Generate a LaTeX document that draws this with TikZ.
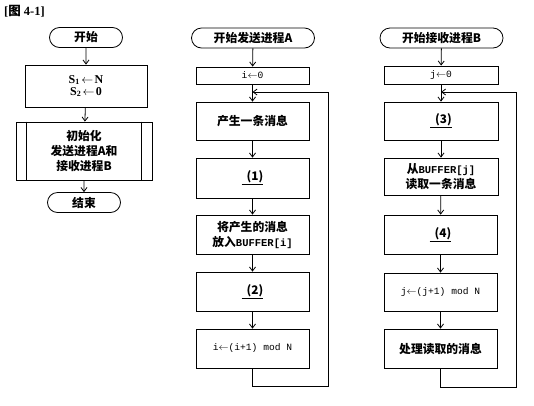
\documentclass[tikz,border=0pt]{standalone}
\usepackage{fontspec}
\setmainfont{Liberation Serif}
\setmonofont{Liberation Mono}
\newfontfamily\cjk{Noto Sans CJK SC}
\usetikzlibrary{shapes.misc,arrows.meta,calc}
\newcommand{\blk}[1]{\underline{\hspace{5pt}#1}}
\begin{document}
\begin{tikzpicture}[x=1pt,y=-1pt,
  every node/.style={font=\cjk\bfseries\fontsize{11.8pt}{15pt}\selectfont, align=center, inner sep=0pt},
  mono/.style={font=\ttfamily\fontsize{9.6pt}{13pt}\selectfont},
  term/.style={draw, rounded rectangle, line width=0.8pt, minimum height=20pt},
  blk/.style={draw, rectangle, line width=0.8pt},
  arr/.style={line width=0.8pt, -{Straight Barb[length=4pt,width=6pt]}},
  ln/.style={line width=0.8pt}]
\useasboundingbox[fill=white] (0,0) rectangle (534,405);
\node[anchor=west, font=\bfseries\fontsize{12.5pt}{14pt}\selectfont] (title) at (4,11) {[{\cjk 图} 4-1]};
% left column
\node[term, minimum width=73pt] (L0) at (86,37.5) {开始};
\node[blk, minimum width=122pt, minimum height=42pt, font=\rmfamily\bfseries\fontsize{12pt}{13pt}\selectfont] (L1) at (86,86) {$\mathbf{S_1}\!\leftarrow\!\mathbf{N}$\\[-1pt]$\mathbf{S_2}\!\leftarrow\!\mathbf{0}$};
\node[blk, minimum width=136pt, minimum height=58pt] (L2) at (84,151) {初始化\\发送进程A和\\接收进程B};
\draw[ln] ([xshift=11pt]L2.north west) -- ([xshift=11pt]L2.south west);
\draw[ln] ([xshift=-11pt]L2.north east) -- ([xshift=-11pt]L2.south east);
\node[term, minimum width=73pt] (L3) at (84,202.5) {结束};
\draw[arr] (L0) -- (L1);
\draw[arr] (L1) -- (L2);
\draw[arr] (L2) -- (L3);
% middle column
\node[term, minimum width=123pt] (A0) at (253,38) {开始发送进程A};
\node[blk, mono, minimum width=113pt, minimum height=17pt] (A1) at (252.5,75.5) {i$\leftarrow$0};
\node[blk, minimum width=113pt, minimum height=38pt] (A2) at (252.5,121) {产生一条消息};
\node[blk, minimum width=113pt, minimum height=40pt] (A3) at (252.5,178) {\blk{(1)}};
\node[blk, minimum width=113pt, minimum height=39pt] (A4) at (252.5,234.5) {将产生的消息\\放入{\ttfamily\fontsize{10.5pt}{13pt}\selectfont BUFFER[i]}};
\node[blk, minimum width=113pt, minimum height=39pt] (A5) at (252.5,291.5) {\blk{(2)}};
\node[blk, mono, minimum width=113pt, minimum height=39pt] (A6) at (252.5,348.5) {i$\leftarrow$(i+1) mod N};
\coordinate (Aent) at (252.5,92);
\coordinate (Acor) at (328,92);
\draw[arr] (A0) -- (A1);
\draw[arr] (A1) -- (A2);
\draw[arr] (A2) -- (A3);
\draw[arr] (A3) -- (A4);
\draw[arr] (A4) -- (A5);
\draw[arr] (A5) -- (A6);
\draw[arr] (A6.south) -- (A6.south |- 0,386) -| (Acor) -- (Aent);
% right column
\node[term, minimum width=123pt] (B0) at (441.5,38) {开始接收进程B};
\node[blk, mono, minimum width=114pt, minimum height=18pt] (B1) at (441,75) {j$\leftarrow$0};
\node[blk, minimum width=114pt, minimum height=38pt] (B2) at (441,121) {\blk{(3)}};
\node[blk, minimum width=114pt, minimum height=37pt] (B3) at (441,176.5) {从{\ttfamily\fontsize{10.5pt}{13pt}\selectfont BUFFER[j]}\\读取一条消息};
\node[blk, minimum width=113pt, minimum height=39pt] (B4) at (440.5,234.5) {\blk{(4)}};
\node[blk, mono, minimum width=113pt, minimum height=38pt] (B5) at (440.5,292) {j$\leftarrow$(j+1) mod N};
\node[blk, minimum width=113pt, minimum height=39pt] (B6) at (440.5,348.5) {处理读取的消息};
\coordinate (Bent) at (441,92);
\coordinate (Bcor) at (516,92);
\draw[arr] (B0) -- (B1);
\draw[arr] (B1) -- (B2);
\draw[arr] (B2) -- (B3);
\draw[arr] (B3) -- (B4);
\draw[arr] (B4) -- (B5);
\draw[arr] (B5) -- (B6);
\draw[arr] (B6.south) -- (B6.south |- 0,387) -| (Bcor) -- (Bent);
\end{tikzpicture}
\end{document}
